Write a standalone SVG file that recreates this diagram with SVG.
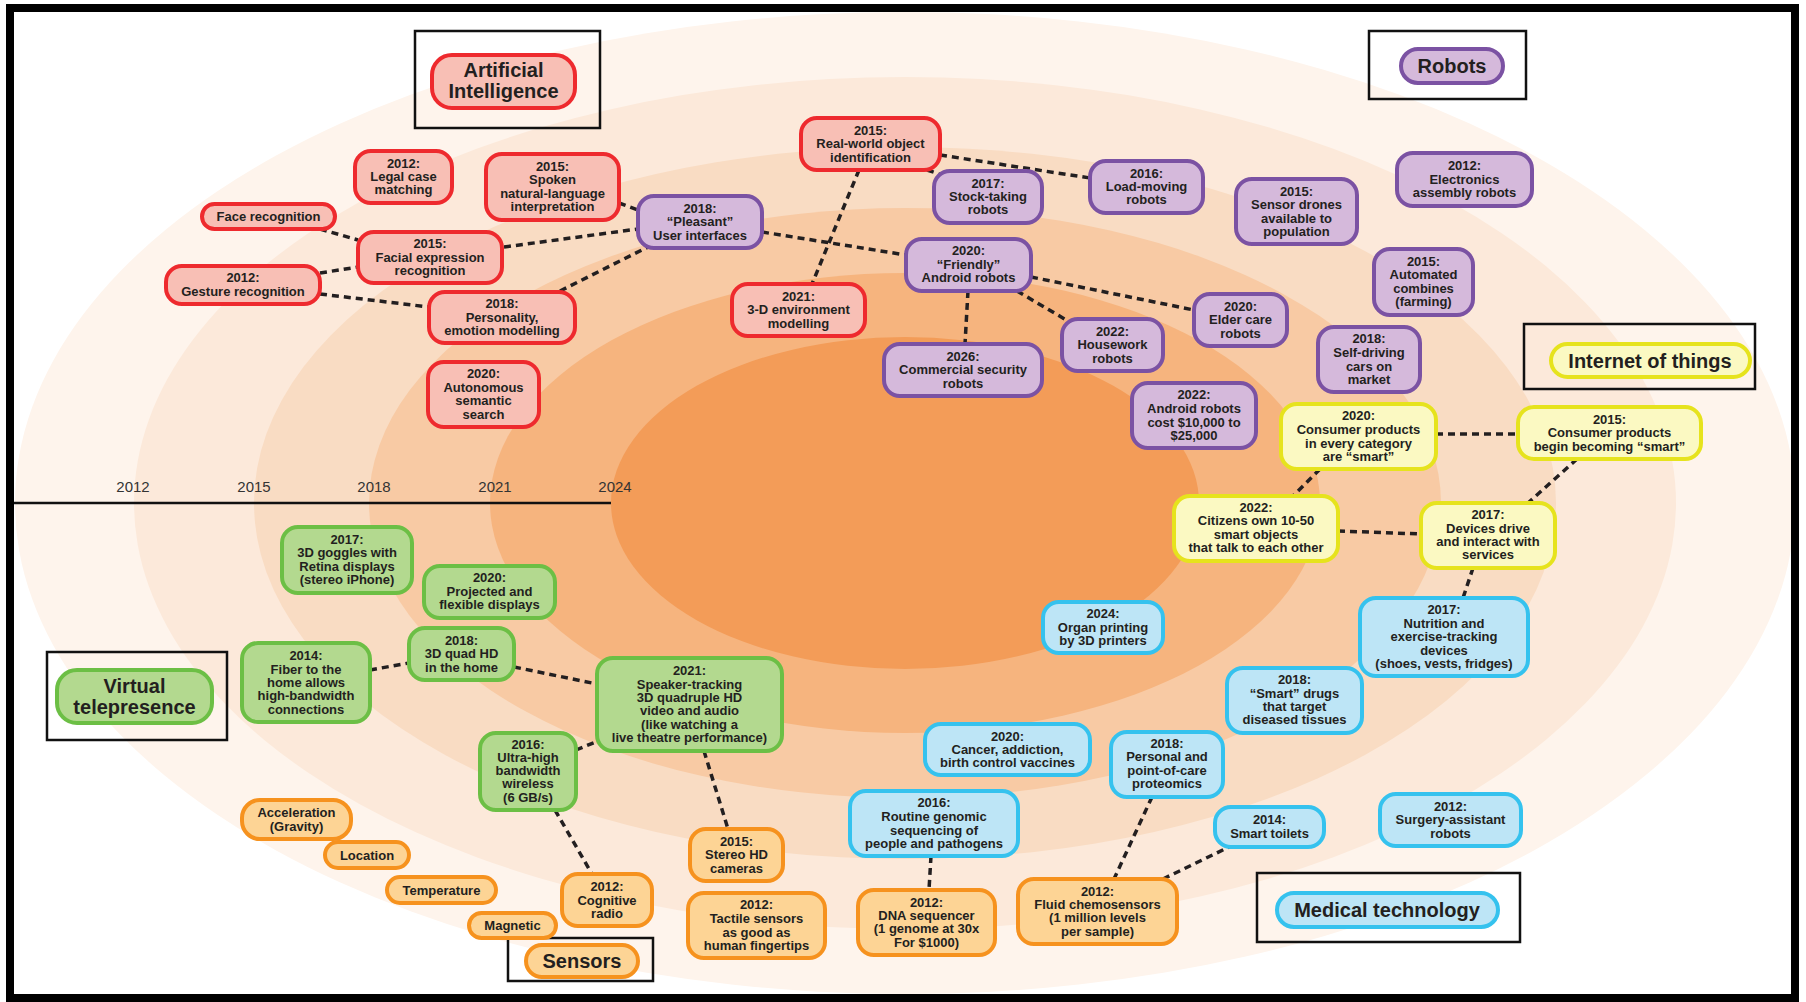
<svg xmlns="http://www.w3.org/2000/svg" width="1806" height="1002" viewBox="0 0 1806 1002">
<style>
text{font-family:"Liberation Sans",Arial,Helvetica,sans-serif;font-weight:bold;font-size:13px;fill:#231F20;text-anchor:middle}
.yr{font-weight:normal;font-size:15px;fill:#333}
.hd{font-size:20px}
.n rect{stroke-width:4}
.ai rect{fill:#F8BFB5;stroke:#EE2A2E}
.ro rect{fill:#D5B9DB;stroke:#7B52A3}
.io rect{fill:#FBF9C2;stroke:#E6E31D}
.vt rect{fill:#B3D98F;stroke:#6CBF45}
.se rect{fill:#FDD495;stroke:#F6921E}
.me rect{fill:#BDE5F6;stroke:#35C2EE}
.fr{fill:none;stroke:#111;stroke-width:2.5}
#connectors line{stroke:#231F20;stroke-width:3.5;stroke-dasharray:7 5;fill:none}
</style>
<rect x="0" y="0" width="1806" height="1002" fill="#fff"/>
<g id="rings">
<ellipse cx="905" cy="503" rx="890" ry="491" fill="#FEF4EC"/>
<ellipse cx="905" cy="503" rx="771" ry="426" fill="#FCE9DA"/>
<ellipse cx="905" cy="503" rx="651" ry="356" fill="#F9DCC3"/>
<ellipse cx="905" cy="503" rx="536" ry="295" fill="#F8CAA4"/>
<ellipse cx="905" cy="503" rx="415" ry="230" fill="#F6B47E"/>
<ellipse cx="905" cy="503" rx="294" ry="166" fill="#F39C58"/>
</g>
<g id="timeline">
<line x1="14" y1="503" x2="611" y2="503" stroke="#111" stroke-width="2.5"/>
<text class="yr" x="133" y="492">2012</text>
<text class="yr" x="254" y="492">2015</text>
<text class="yr" x="374" y="492">2018</text>
<text class="yr" x="495" y="492">2021</text>
<text class="yr" x="615" y="492">2024</text>
</g>
<g id="connectors">
<line x1="320" y1="229" x2="358" y2="240"/>
<line x1="320" y1="273" x2="358" y2="267"/>
<line x1="320" y1="294" x2="429" y2="307"/>
<line x1="504" y1="247" x2="638" y2="229"/>
<line x1="560" y1="291" x2="650" y2="246"/>
<line x1="619" y1="203" x2="638" y2="210"/>
<line x1="762" y1="232" x2="906" y2="255"/>
<line x1="859" y1="170" x2="812" y2="284"/>
<line x1="927" y1="170" x2="942" y2="175"/>
<line x1="940" y1="155" x2="1090" y2="178"/>
<line x1="968" y1="291" x2="965" y2="344"/>
<line x1="1017" y1="291" x2="1068" y2="321"/>
<line x1="1031" y1="277" x2="1194" y2="310"/>
<line x1="1436" y1="434" x2="1518" y2="434"/>
<line x1="1320" y1="469" x2="1293" y2="496"/>
<line x1="1338" y1="531" x2="1421" y2="534"/>
<line x1="1577" y1="459" x2="1528" y2="503"/>
<line x1="1473" y1="568" x2="1463" y2="598"/>
<line x1="370" y1="670" x2="409" y2="663"/>
<line x1="514" y1="667" x2="597" y2="684"/>
<line x1="576" y1="750" x2="598" y2="741"/>
<line x1="555" y1="810" x2="592" y2="874"/>
<line x1="704" y1="751" x2="728" y2="829"/>
<line x1="931" y1="856" x2="929" y2="890"/>
<line x1="1152" y1="797" x2="1114" y2="879"/>
<line x1="1163" y1="879" x2="1231" y2="846"/>
</g>
<g id="frames">
<rect class="fr" x="415" y="31" width="185" height="97"/>
<rect class="fr" x="1369" y="31" width="157" height="68"/>
<rect class="fr" x="1524" y="324" width="231" height="65"/>
<rect class="fr" x="47" y="652" width="180" height="88"/>
<rect class="fr" x="508" y="938" width="145" height="43"/>
<rect class="fr" x="1257" y="873" width="263" height="69"/>
</g>
<g id="hdr-ai" class="n ai"><rect x="432" y="55" width="143" height="53" rx="20"/><text class="hd" x="503.5" y="77">Artificial</text><text class="hd" x="503.5" y="98">Intelligence</text></g>
<g id="hdr-robots" class="n ro"><rect x="1401" y="49" width="102" height="34" rx="17"/><text class="hd" x="1452" y="73">Robots</text></g>
<g id="hdr-iot" class="n io"><rect x="1551" y="344" width="199" height="33" rx="16.5"/><text class="hd" x="1650" y="368">Internet of things</text></g>
<g id="hdr-vt" class="n vt"><rect x="57" y="670" width="155" height="53" rx="20"/><text class="hd" x="134.5" y="693">Virtual</text><text class="hd" x="134.5" y="714">telepresence</text></g>
<g id="hdr-sensors" class="n se"><rect x="526" y="945" width="112" height="32" rx="16"/><text class="hd" x="582" y="968">Sensors</text></g>
<g id="hdr-med" class="n me"><rect x="1277" y="893" width="221" height="34" rx="17"/><text class="hd" x="1387" y="917">Medical technology</text></g>

<g id="ai-legal" class="n ai"><rect x="355" y="151" width="97" height="52" rx="16"/><text x="403.5" y="168">2012:</text><text x="403.5" y="181">Legal case</text><text x="403.5" y="194">matching</text></g>
<g id="ai-spoken" class="n ai"><rect x="486" y="154" width="133" height="66" rx="16"/><text x="552.5" y="171">2015:</text><text x="552.5" y="184">Spoken</text><text x="552.5" y="198">natural-language</text><text x="552.5" y="211">interpretation</text></g>
<g id="ai-face" class="n ai"><rect x="202" y="204" width="133" height="25" rx="12.5"/><text x="268.5" y="221">Face recognition</text></g>
<g id="ai-facial" class="n ai"><rect x="358" y="232" width="144" height="51" rx="16"/><text x="430" y="248">2015:</text><text x="430" y="262">Facial expression</text><text x="430" y="275">recognition</text></g>
<g id="ai-gesture" class="n ai"><rect x="166" y="266" width="154" height="38" rx="16"/><text x="243" y="282">2012:</text><text x="243" y="296">Gesture recognition</text></g>
<g id="ai-personality" class="n ai"><rect x="429" y="292" width="146" height="51" rx="16"/><text x="502" y="308">2018:</text><text x="502" y="322">Personality,</text><text x="502" y="335">emotion modelling</text></g>
<g id="ai-semantic" class="n ai"><rect x="428" y="362" width="111" height="65" rx="16"/><text x="483.5" y="378">2020:</text><text x="483.5" y="392">Autonomous</text><text x="483.5" y="405">semantic</text><text x="483.5" y="419">search</text></g>
<g id="ai-realworld" class="n ai"><rect x="801" y="118" width="139" height="52" rx="16"/><text x="870.5" y="135">2015:</text><text x="870.5" y="148">Real-world object</text><text x="870.5" y="162">identification</text></g>
<g id="ai-3d" class="n ai"><rect x="732" y="284" width="133" height="52" rx="16"/><text x="798.5" y="301">2021:</text><text x="798.5" y="314">3-D environment</text><text x="798.5" y="328">modelling</text></g>

<g id="ro-pleasant" class="n ro"><rect x="638" y="196" width="124" height="52" rx="16"/><text x="700" y="213">2018:</text><text x="700" y="226">“Pleasant”</text><text x="700" y="240">User interfaces</text></g>
<g id="ro-stock" class="n ro"><rect x="934" y="171" width="108" height="52" rx="16"/><text x="988" y="188">2017:</text><text x="988" y="201">Stock-taking</text><text x="988" y="214">robots</text></g>
<g id="ro-load" class="n ro"><rect x="1090" y="161" width="113" height="52" rx="16"/><text x="1146.5" y="178">2016:</text><text x="1146.5" y="191">Load-moving</text><text x="1146.5" y="204">robots</text></g>
<g id="ro-friendly" class="n ro"><rect x="906" y="239" width="125" height="52" rx="16"/><text x="968.5" y="255">2020:</text><text x="968.5" y="269">“Friendly”</text><text x="968.5" y="282">Android robots</text></g>
<g id="ro-security" class="n ro"><rect x="884" y="344" width="158" height="52" rx="16"/><text x="963" y="361">2026:</text><text x="963" y="374">Commercial security</text><text x="963" y="388">robots</text></g>
<g id="ro-housework" class="n ro"><rect x="1062" y="319" width="101" height="52" rx="16"/><text x="1112.5" y="336">2022:</text><text x="1112.5" y="349">Housework</text><text x="1112.5" y="363">robots</text></g>
<g id="ro-elder" class="n ro"><rect x="1194" y="294" width="93" height="52" rx="16"/><text x="1240.5" y="311">2020:</text><text x="1240.5" y="324">Elder care</text><text x="1240.5" y="338">robots</text></g>
<g id="ro-cost" class="n ro"><rect x="1132" y="383" width="124" height="65" rx="16"/><text x="1194" y="399">2022:</text><text x="1194" y="413">Android robots</text><text x="1194" y="427">cost $10,000 to</text><text x="1194" y="440">$25,000</text></g>
<g id="ro-drones" class="n ro"><rect x="1236" y="179" width="121" height="65" rx="16"/><text x="1296.5" y="196">2015:</text><text x="1296.5" y="209">Sensor drones</text><text x="1296.5" y="223">available to</text><text x="1296.5" y="236">population</text></g>
<g id="ro-electronics" class="n ro"><rect x="1397" y="153" width="135" height="53" rx="16"/><text x="1464.5" y="170">2012:</text><text x="1464.5" y="184">Electronics</text><text x="1464.5" y="197">assembly robots</text></g>
<g id="ro-combines" class="n ro"><rect x="1374" y="249" width="99" height="66" rx="16"/><text x="1423.5" y="266">2015:</text><text x="1423.5" y="279">Automated</text><text x="1423.5" y="293">combines</text><text x="1423.5" y="306">(farming)</text></g>
<g id="ro-cars" class="n ro"><rect x="1318" y="327" width="102" height="65" rx="16"/><text x="1369" y="343">2018:</text><text x="1369" y="357">Self-driving</text><text x="1369" y="371">cars on</text><text x="1369" y="384">market</text></g>

<g id="io-consumer2020" class="n io"><rect x="1281" y="404" width="155" height="65" rx="16"/><text x="1358.5" y="420">2020:</text><text x="1358.5" y="434">Consumer products</text><text x="1358.5" y="448">in every category</text><text x="1358.5" y="461">are “smart”</text></g>
<g id="io-consumer2015" class="n io"><rect x="1518" y="407" width="183" height="52" rx="16"/><text x="1609.5" y="424">2015:</text><text x="1609.5" y="437">Consumer products</text><text x="1609.5" y="451">begin becoming “smart”</text></g>
<g id="io-citizens" class="n io"><rect x="1174" y="496" width="164" height="65" rx="16"/><text x="1256" y="512">2022:</text><text x="1256" y="525">Citizens own 10-50</text><text x="1256" y="539">smart objects</text><text x="1256" y="552">that talk to each other</text></g>
<g id="io-devices" class="n io"><rect x="1421" y="503" width="134" height="65" rx="16"/><text x="1488" y="519">2017:</text><text x="1488" y="533">Devices drive</text><text x="1488" y="546">and interact with</text><text x="1488" y="559">services</text></g>

<g id="me-nutrition" class="n me"><rect x="1360" y="598" width="168" height="78" rx="16"/><text x="1444" y="614">2017:</text><text x="1444" y="628">Nutrition and</text><text x="1444" y="641">exercise-tracking</text><text x="1444" y="655">devices</text><text x="1444" y="668">(shoes, vests, fridges)</text></g>
<g id="me-drugs" class="n me"><rect x="1227" y="668" width="135" height="65" rx="16"/><text x="1294.5" y="684">2018:</text><text x="1294.5" y="698">“Smart” drugs</text><text x="1294.5" y="711">that target</text><text x="1294.5" y="724">diseased tissues</text></g>
<g id="me-organ" class="n me"><rect x="1043" y="602" width="120" height="51" rx="16"/><text x="1103" y="618">2024:</text><text x="1103" y="632">Organ printing</text><text x="1103" y="645">by 3D printers</text></g>
<g id="me-cancer" class="n me"><rect x="925" y="724" width="165" height="51" rx="16"/><text x="1007.5" y="741">2020:</text><text x="1007.5" y="754">Cancer, addiction,</text><text x="1007.5" y="767">birth control vaccines</text></g>
<g id="me-proteomics" class="n me"><rect x="1111" y="732" width="112" height="65" rx="16"/><text x="1167" y="748">2018:</text><text x="1167" y="761">Personal and</text><text x="1167" y="775">point-of-care</text><text x="1167" y="788">proteomics</text></g>
<g id="me-genomic" class="n me"><rect x="850" y="791" width="168" height="65" rx="16"/><text x="934" y="807">2016:</text><text x="934" y="821">Routine genomic</text><text x="934" y="835">sequencing of</text><text x="934" y="848">people and pathogens</text></g>
<g id="me-toilets" class="n me"><rect x="1215" y="807" width="109" height="40" rx="16"/><text x="1269.5" y="824">2014:</text><text x="1269.5" y="838">Smart toilets</text></g>
<g id="me-surgery" class="n me"><rect x="1380" y="794" width="141" height="52" rx="16"/><text x="1450.5" y="811">2012:</text><text x="1450.5" y="824">Surgery-assistant</text><text x="1450.5" y="838">robots</text></g>

<g id="se-stereo" class="n se"><rect x="690" y="829" width="93" height="52" rx="16"/><text x="736.5" y="846">2015:</text><text x="736.5" y="859">Stereo HD</text><text x="736.5" y="873">cameras</text></g>
<g id="se-tactile" class="n se"><rect x="688" y="893" width="137" height="65" rx="16"/><text x="756.5" y="909">2012:</text><text x="756.5" y="923">Tactile sensors</text><text x="756.5" y="937">as good as</text><text x="756.5" y="950">human fingertips</text></g>
<g id="se-dna" class="n se"><rect x="858" y="890" width="137" height="65" rx="16"/><text x="926.5" y="907">2012:</text><text x="926.5" y="920">DNA sequencer</text><text x="926.5" y="933">(1 genome at 30x</text><text x="926.5" y="947">For $1000)</text></g>
<g id="se-fluid" class="n se"><rect x="1018" y="879" width="159" height="65" rx="16"/><text x="1097.5" y="896">2012:</text><text x="1097.5" y="909">Fluid chemosensors</text><text x="1097.5" y="922">(1 million levels</text><text x="1097.5" y="936">per sample)</text></g>
<g id="se-cognitive" class="n se"><rect x="562" y="874" width="90" height="52" rx="16"/><text x="607" y="891">2012:</text><text x="607" y="905">Cognitive</text><text x="607" y="918">radio</text></g>
<g id="se-accel" class="n se"><rect x="242" y="800" width="109" height="39" rx="18"/><text x="296.5" y="817">Acceleration</text><text x="296.5" y="831">(Gravity)</text></g>
<g id="se-location" class="n se"><rect x="325" y="842" width="84" height="26" rx="13"/><text x="367" y="860">Location</text></g>
<g id="se-temperature" class="n se"><rect x="387" y="877" width="109" height="26" rx="13"/><text x="441.5" y="895">Temperature</text></g>
<g id="se-magnetic" class="n se"><rect x="469" y="913" width="87" height="25" rx="12.5"/><text x="512.5" y="930">Magnetic</text></g>

<g id="vt-goggles" class="n vt"><rect x="282" y="527" width="130" height="66" rx="16"/><text x="347" y="544">2017:</text><text x="347" y="557">3D goggles with</text><text x="347" y="571">Retina displays</text><text x="347" y="584">(stereo iPhone)</text></g>
<g id="vt-projected" class="n vt"><rect x="424" y="566" width="131" height="52" rx="16"/><text x="489.5" y="582">2020:</text><text x="489.5" y="596">Projected and</text><text x="489.5" y="609">flexible displays</text></g>
<g id="vt-quad" class="n vt"><rect x="409" y="628" width="105" height="52" rx="16"/><text x="461.5" y="645">2018:</text><text x="461.5" y="658">3D quad HD</text><text x="461.5" y="672">in the home</text></g>
<g id="vt-fiber" class="n vt"><rect x="242" y="643" width="128" height="79" rx="16"/><text x="306" y="660">2014:</text><text x="306" y="674">Fiber to the</text><text x="306" y="687">home allows</text><text x="306" y="700">high-bandwidth</text><text x="306" y="714">connections</text></g>
<g id="vt-speaker" class="n vt"><rect x="597" y="658" width="185" height="93" rx="16"/><text x="689.5" y="675">2021:</text><text x="689.5" y="689">Speaker-tracking</text><text x="689.5" y="702">3D quadruple HD</text><text x="689.5" y="715">video and audio</text><text x="689.5" y="729">(like watching a</text><text x="689.5" y="742">live theatre performance)</text></g>
<g id="vt-ultra" class="n vt"><rect x="480" y="733" width="96" height="77" rx="16"/><text x="528" y="749">2016:</text><text x="528" y="762">Ultra-high</text><text x="528" y="775">bandwidth</text><text x="528" y="788">wireless</text><text x="528" y="802">(6 GB/s)</text></g>

<rect x="10" y="8" width="1785" height="990" fill="none" stroke="#000" stroke-width="8"/>
</svg>
